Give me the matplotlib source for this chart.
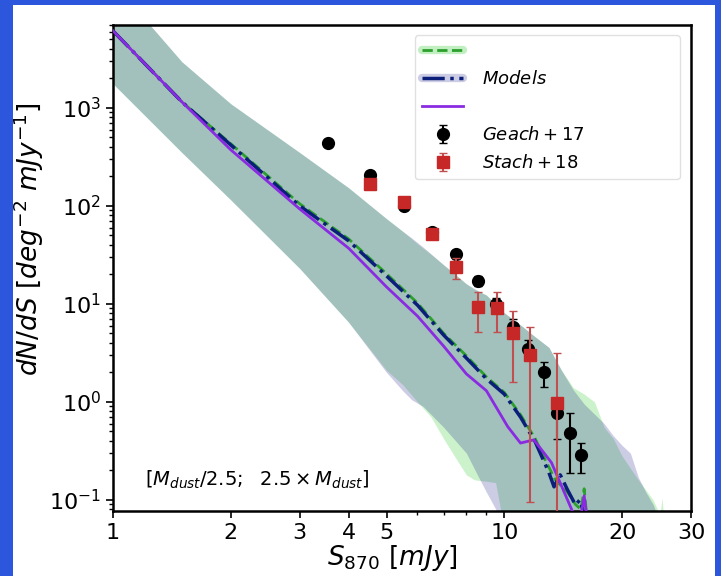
import numpy as np
import matplotlib
matplotlib.use("Agg")
import matplotlib.pyplot as plt
from matplotlib.patches import Rectangle
from matplotlib.lines import Line2D
from matplotlib.ticker import NullFormatter, FixedLocator

# Model bands (lower / upper edges)
green_band_S = [1, 1.5, 2, 3, 4, 5, 5.5, 6, 6.5, 7, 7.5, 8, 8.4, 9, 9.5, 10, 11, 12, 13,
                14, 15, 16, 17, 18, 19, 20, 22, 24, 25, 25.3, 25.6, 26]
green_band_lo = [1760, 350, 115, 23, 6.5, 2.1, 1.5, 1.0, 0.7, 0.42, 0.27, 0.18, 0.16, 0.155, 0.15,
                 0.05, 0.03, 0.03, 0.03, 0.03, 0.03, 0.03, 0.03, 0.03, 0.03, 0.03, 0.03, 0.03,
                 0.03, 0.03, 0.03, 0.03]
green_band_hi = [19000, 2950, 1100, 350, 153, 74, 55, 41, 32, 25, 20, 16, 14, 12.3, 10, 8.1,
                 6.1, 4.6, 3.6, 2.1, 1.4, 1.2, 1.0, 0.55, 0.42, 0.28, 0.16, 0.1, 0.07, 0.105,
                 0.06, 0.03]

navy_band_S = [1, 1.5, 2, 3, 4, 5, 5.5, 5.8, 6.2, 7, 8, 8.6, 9, 9.6, 10, 11, 12, 13, 14, 15,
               16, 17, 18, 19, 20, 21, 22, 23, 24, 25]
navy_band_lo = [1760, 350, 115, 23, 6.5, 2.0, 1.3, 1.05, 0.9, 0.55, 0.3, 0.17, 0.12, 0.075,
                0.05, 0.03, 0.03, 0.03, 0.03, 0.03, 0.03, 0.03, 0.03, 0.03, 0.03, 0.03, 0.03,
                0.03, 0.03, 0.03]
navy_band_hi = [19000, 2950, 1100, 350, 153, 74, 55, 47, 38, 25, 16, 13.5, 12.3, 9.5, 8.1, 6.1,
                4.6, 3.6, 2.1, 1.33, 0.95, 0.75, 0.6, 0.45, 0.36, 0.3, 0.17, 0.12, 0.09, 0.06]

# Model lines
green_S = [1, 1.5, 2, 3, 4, 5, 6, 7, 8, 9, 10, 11, 12, 12.7, 13.5, 14.5, 15.2, 15.7, 16, 16.3]
green_N = [6100, 1150, 430, 105, 46, 20.3, 10.2, 5.0, 2.95, 1.8, 1.25, 0.74, 0.42, 0.26, 0.16,
           0.12, 0.09, 0.08, 0.13, 0.06]

navy_S = [1, 1.5, 2, 3, 4, 5, 6, 7, 8, 9, 10, 11, 12, 13, 13.4, 13.9, 14.5, 15.2, 15.6, 16.2]
navy_N = [6100, 1150, 418, 100, 44, 19.3, 9.7, 4.8, 2.8, 1.72, 1.2, 0.70, 0.39, 0.19, 0.136,
          0.18, 0.127, 0.089, 0.1, 0.06]

purple_S = [1, 1.5, 2, 3, 4, 5, 6, 7, 8, 9, 10.2, 11, 11.9, 13.2, 13.7, 14.9, 15.5, 16, 16.4]
purple_N = [6100, 1150, 373, 93, 37, 14.9, 7.5, 3.7, 1.93, 1.3, 0.56, 0.38, 0.41, 0.24, 0.17,
            0.078, 0.05, 0.11, 0.05]

# Observations
geach_S = [3.54, 4.53, 5.54, 6.54, 7.53, 8.58, 9.53, 10.5, 11.5, 12.6, 13.6, 14.7, 15.7]
geach_N = [440, 207, 100, 54, 32, 17.2, 10, 5.8, 3.5, 2.0, 0.77, 0.48, 0.29]
geach_err_lo = [20, 12, 7, 4, 3, 2, 1.5, 1.2, 0.8, 0.58, 0.35, 0.29, 0.10]
geach_err_hi = [20, 12, 7, 4, 3, 2, 1.5, 1.2, 0.8, 0.56, 0.30, 0.29, 0.09]

stach_S = [4.53, 5.54, 6.54, 7.53, 8.58, 9.6, 10.5, 11.6, 13.6]
stach_N = [168, 110, 52, 24, 9.3, 9.1, 5.1, 3.0, 0.98]
stach_err_lo = [15, 10, 6, 6, 4.1, 3.9, 3.5, 2.905, 0.97]
stach_err_hi = [15, 10, 6, 5.6, 4.0, 4.0, 3.4, 2.8, 2.2]

fig = plt.figure(figsize=(7.21, 5.76), dpi=100, facecolor='#2c56dc')
fig.patches.append(Rectangle((13 / 721, 0), 702 / 721, 571 / 576, transform=fig.transFigure,
                             facecolor='white', edgecolor='none', zorder=-10))
ax = fig.add_axes([0.1567, 0.1128, 0.8017, 0.8438])

ax.fill_between(green_band_S, green_band_lo, green_band_hi, color='limegreen', alpha=0.25,
                lw=0, zorder=1)
ax.fill_between(navy_band_S, navy_band_lo, navy_band_hi, color='navy', alpha=0.2,
                lw=0, zorder=1)

ax.plot(green_S, green_N, '--', color='#2ca02c', lw=2, zorder=2)
ax.plot(navy_S, navy_N, '-.', color='#0b1f7a', lw=2.5, zorder=2)
ax.plot(purple_S, purple_N, '-', color='#8a2be2', lw=2, zorder=3)

geach = ax.errorbar(geach_S, geach_N, yerr=[geach_err_lo, geach_err_hi], fmt='o', color='black',
                    ms=8.5, elinewidth=1.5, capsize=3, zorder=4)
stach = ax.errorbar(stach_S, stach_N, yerr=[stach_err_lo, stach_err_hi], fmt='s',
                    color='#c62828', ecolor='#c05050', ms=8.5, elinewidth=1.5, capsize=3,
                    zorder=5)

ax.set_xscale('log')
ax.set_yscale('log')
ax.set_xlim(1, 30)
ax.set_ylim(0.077, 7000)

xt = [1, 2, 3, 4, 5, 10, 20, 30]
ax.xaxis.set_major_locator(FixedLocator(xt))
ax.set_xticklabels([str(v) for v in xt])
ax.xaxis.set_minor_locator(FixedLocator([6, 7, 8, 9]))
ax.xaxis.set_minor_formatter(NullFormatter())
ax.tick_params(axis='both', which='major', labelsize=16, length=5, width=1.2)
ax.tick_params(axis='both', which='minor', length=3, width=1)
for sp in ax.spines.values():
    sp.set_linewidth(1.8)

ax.set_xlabel(r'$S_{870}\ [mJy]$', fontsize=19, labelpad=0)
ax.set_ylabel(r'$dN/dS\ [deg^{-2}\ mJy^{-1}]$', fontsize=19, labelpad=2)
ax.xaxis.label.set_x(0.483)
ax.yaxis.label.set_y(0.56)

ax.text(0.055, 0.064, r'$[M_{dust}/2.5;\ \ 2.5\times M_{dust}]$', transform=ax.transAxes,
        fontsize=14, va='center', ha='left')

h_green = (Line2D([], [], color='limegreen', alpha=0.3, lw=6, solid_capstyle='round'),
           Line2D([], [], color='#2ca02c', ls='--', lw=2))
h_navy = (Line2D([], [], color='navy', alpha=0.2, lw=6, solid_capstyle='round'),
          Line2D([], [], color='#0b1f7a', ls='-.', lw=2.5))
h_purple = Line2D([], [], color='#8a2be2', lw=2)
ax.legend([h_green, h_navy, h_purple, geach, stach],
          ['', r'$Models$', '', r'$Geach+17$', r'$Stach+18$'],
          loc='upper left', bbox_to_anchor=(0.522, 0.675, 0.459, 0.304), mode='expand',
          fontsize=13, handlelength=2.3, handletextpad=1.0, labelspacing=0.55,
          borderaxespad=0, framealpha=0.9, edgecolor='#dddddd')

fig.savefig('out.png', dpi=100, facecolor=fig.get_facecolor())
